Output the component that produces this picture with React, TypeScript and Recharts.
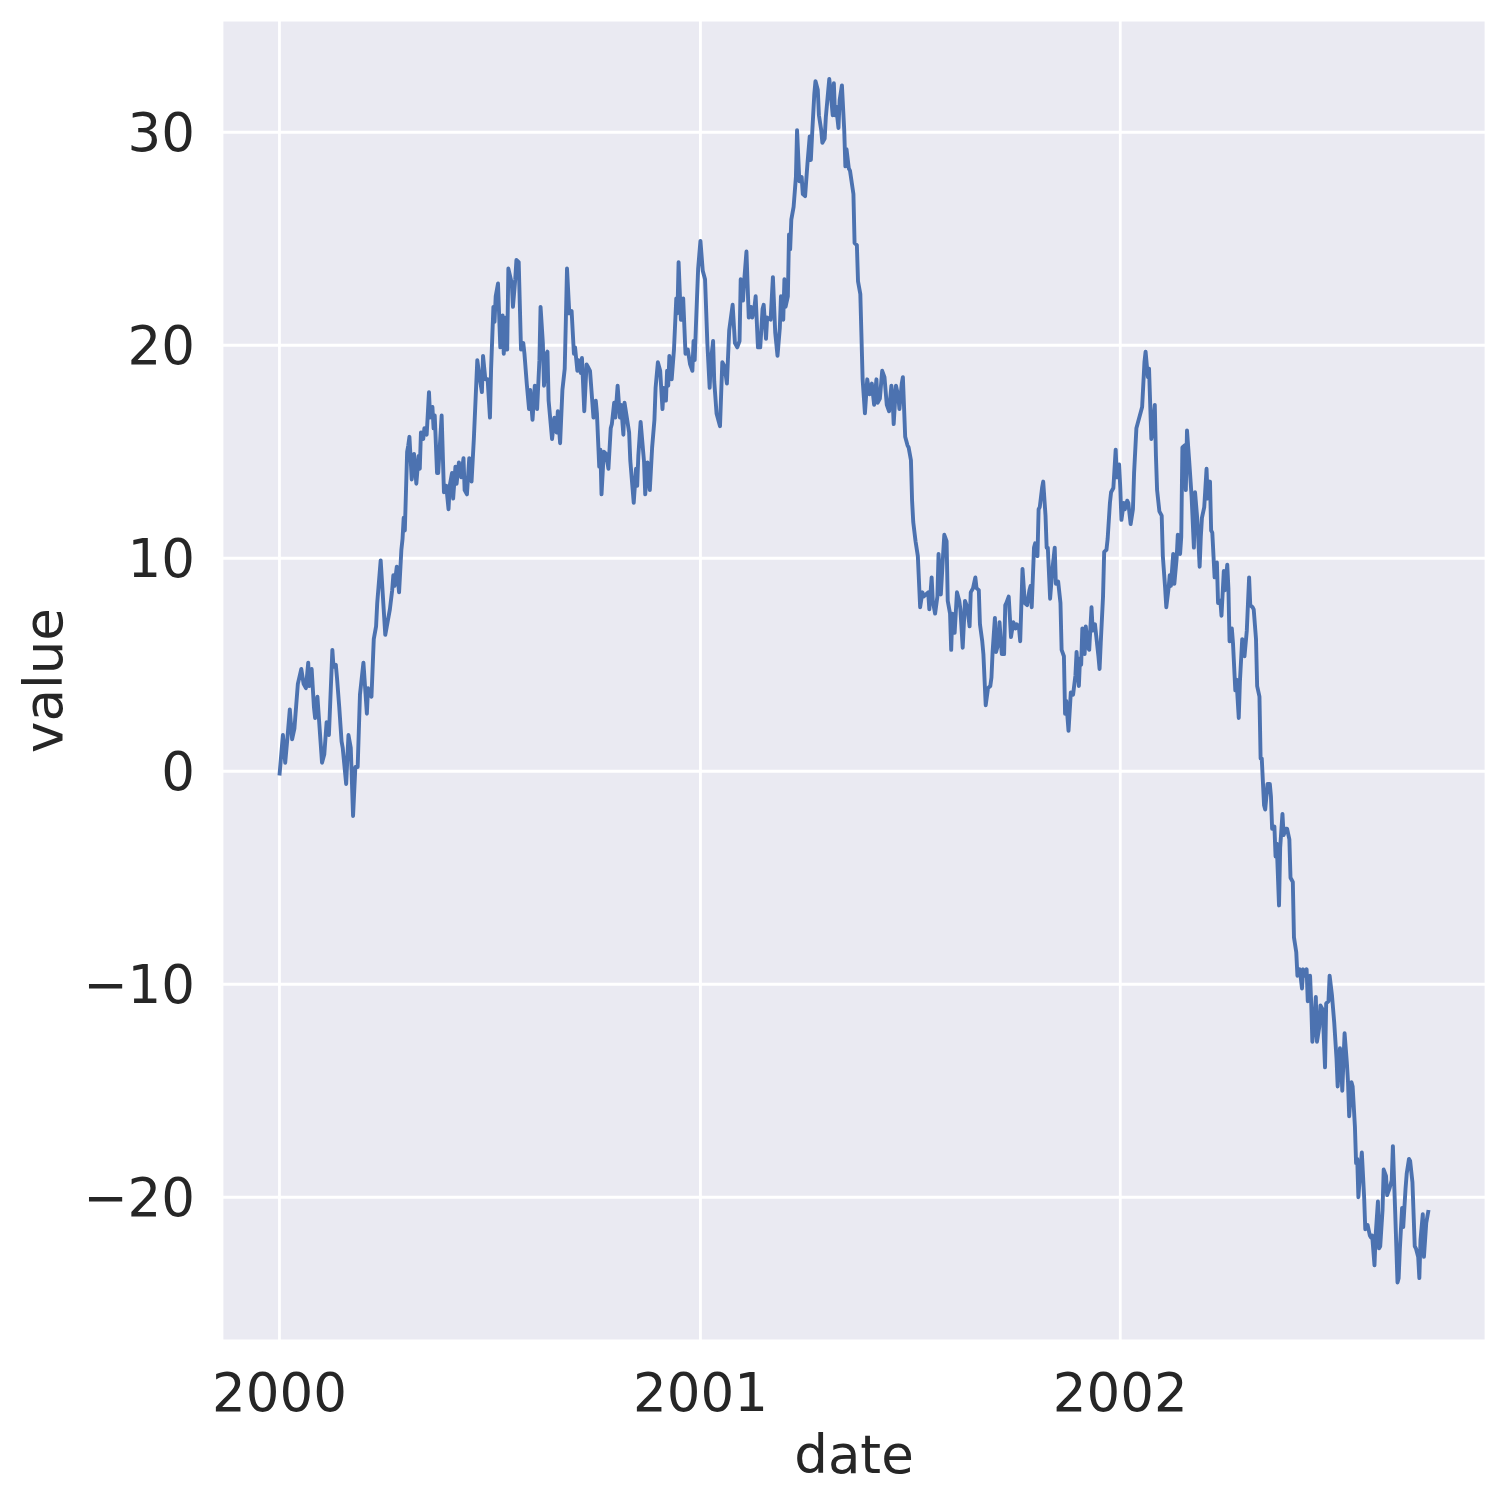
import React from "react"
import { LineChart, Line, XAxis, YAxis, CartesianGrid, Label } from "recharts"

// days since 2000-01-01 and the value of the walk on that day
const dayOffsets = [
    0, 3, 5, 7, 9, 11, 13, 16, 19, 21, 23, 25, 26, 28, 30, 31, 33, 37, 39, 41, 43, 46, 47, 49, 50, 52, 54, 55, 58, 60, 62, 64, 66, 68, 70, 73, 75, 76, 77, 80, 82, 84, 85, 88, 92, 94, 96, 98, 99, 100, 102, 104, 106, 107, 108, 109, 111, 112, 113, 115, 117, 119, 121, 122, 123, 125, 126, 128, 130, 131, 133, 134, 135, 137, 138, 141, 143, 145, 147, 148, 150, 151, 153, 154, 156, 158, 160, 161, 163, 165,
    167, 169, 172, 174, 176, 177, 179, 181, 183, 184, 186, 187, 188, 190, 192, 194, 195, 197, 198, 199, 202, 203, 205, 206, 208, 210, 212, 213, 215, 217, 218, 220, 222, 224, 226, 227, 229, 230, 232, 233, 234, 237, 239, 241, 242, 244, 246, 248, 249, 250, 252, 254, 256, 257, 259, 260, 262, 263, 265, 267, 268, 270, 273, 275, 276, 278, 279, 280, 282, 284, 286, 288, 289, 291, 292, 294, 296, 297, 299, 300, 302, 304, 305, 308, 310, 311, 312, 314, 317, 318, 320, 322, 324, 326, 327, 329,
    331, 333, 334, 336, 337, 338, 339, 341, 343, 345, 346, 347, 349, 351, 353, 355, 357, 359, 360, 361, 362, 364, 366, 368, 370, 372, 374, 375, 377, 378, 380, 383, 385, 387, 389, 391, 394, 396, 398, 400, 401, 403, 404, 406, 408, 410, 411, 413, 414, 416, 418, 420, 421, 423, 424, 427, 429, 431, 433, 435, 436, 438, 439, 440, 442, 443, 444, 445, 447, 449, 450, 452, 454, 455, 457, 459, 461, 462, 463, 465, 466, 468, 469, 471, 472, 474, 475, 477, 478, 479, 481, 482, 483, 484, 486, 487, 489, 491, 492, 493, 495, 496, 499, 500, 502, 503, 505, 507, 509, 511,
    513, 515, 517, 519, 520, 522, 524, 526, 528, 530, 532, 533, 534, 536, 538, 539, 541, 542, 544, 546, 547, 549, 550, 551, 553, 555, 557, 559, 560, 562, 564, 565, 567, 568, 570, 572, 573, 575, 577, 578, 580, 581, 583, 584, 585, 587, 589, 591, 592, 594, 596, 598, 600, 601, 603, 605, 606, 608, 609, 611, 612, 614, 616, 618, 619, 620, 622, 623, 625, 626, 628, 630, 631, 632, 634, 636, 638, 640, 641, 643, 644, 646, 648, 650, 652, 653, 654, 656, 657, 659, 660, 661, 663, 664, 666, 667, 668,
    670, 672, 674, 675, 677, 679, 680, 682, 683, 684, 686, 688, 690, 692, 693, 695, 696, 697, 698, 700, 701, 703, 704, 706, 707, 709, 710, 712, 713, 714, 716, 717, 719, 720, 722, 723, 725, 727, 728, 730, 731, 732, 734, 735, 737, 738, 740, 742, 743, 745, 746, 748, 749, 750, 752, 753, 755, 756, 758, 759, 761, 762, 763, 765, 767, 768, 770, 771, 773, 774, 775, 777, 778, 780, 781, 783, 784, 785, 787, 788, 789, 791, 793, 795, 796, 798, 800, 801, 802, 804, 806, 807, 809, 810, 811, 813, 815, 816,
    818, 819, 821, 822, 824, 825, 826, 828, 829, 831, 832, 834, 835, 837, 838, 839, 841, 843, 844, 846, 847, 849, 850, 852, 853, 854, 856, 857, 859, 861, 862, 863, 865, 866, 867, 869, 870, 872, 873, 875, 876, 878, 879, 881, 882, 884, 885, 887, 889, 890, 891, 893, 894, 896, 897, 898, 900, 901, 902, 904, 905, 907, 909, 910, 912, 913, 915, 917, 919, 920, 922, 923, 924, 926, 928, 929, 930, 932, 933, 935, 936, 937, 938, 940, 941, 943, 944, 946, 948, 949, 950, 952, 953, 955, 956, 957, 959, 960, 962, 963, 965, 967, 968, 970, 972, 973, 974, 976, 977, 979, 980, 982, 983, 985, 987, 988, 990, 991, 992, 994, 995, 997, 999,
]

const values = [
    -0.2, 1.7, 0.4, 1.6, 2.9, 1.5, 2.0, 4.1, 4.8, 4.1, 3.9, 5.1, 4.0, 4.8, 3.0, 2.5, 3.5, 0.4, 0.8, 2.3, 1.7, 5.7, 4.9, 5.0, 4.4, 3.0, 1.4, 1.1, -0.6, 1.7, 1.1, -2.1, 0.2, 0.2, 3.6, 5.1, 3.5, 2.7, 3.9, 3.5, 6.2, 6.8, 7.9, 9.9, 6.4, 7.0, 7.6, 8.5, 9.2, 8.7, 9.6, 8.4, 10.4, 10.9, 11.9, 11.3, 15.0, 15.3, 15.7, 13.7, 14.9, 13.5, 14.8, 14.2, 15.9, 15.6, 16.1, 15.8, 17.8, 16.6, 17.1, 16.1, 16.7, 14.0, 14.0, 16.7, 13.1, 13.4, 12.3, 13.4, 14.0, 12.8, 14.3, 13.5, 14.5, 13.8, 14.7, 13.2, 13.0, 14.7,
    13.6, 15.6, 19.3, 18.5, 17.8, 19.5, 18.4, 18.4, 16.6, 18.9, 21.8, 21.1, 22.3, 22.9, 19.9, 21.4, 19.6, 21.3, 19.8, 23.6, 22.9, 21.8, 23.1, 24.0, 23.9, 19.8, 20.1, 19.6, 18.2, 17.0, 17.9, 16.5, 18.1, 17.0, 19.3, 21.8, 20.1, 18.1, 19.6, 19.7, 17.4, 15.6, 16.6, 15.9, 16.9, 15.4, 17.9, 18.9, 21.2, 23.6, 21.5, 21.6, 19.6, 19.9, 18.8, 19.3, 18.7, 19.4, 16.9, 19.1, 19.0, 18.8, 16.6, 17.4, 16.8, 14.3, 15.1, 13.0, 15.0, 14.9, 14.2, 16.1, 16.3, 17.3, 16.6, 18.1, 16.6, 17.2, 15.8, 17.3, 16.6, 15.9, 14.6, 12.6, 14.2, 13.4, 14.8, 16.4, 14.5, 13.0, 14.5, 13.2, 15.2, 16.5, 18.0, 19.2,
    18.8, 17.0, 18.0, 17.4, 18.8, 18.1, 19.5, 18.4, 19.8, 22.2, 21.5, 23.9, 21.2, 22.2, 19.6, 19.8, 19.1, 18.8, 20.2, 19.3, 20.8, 23.6, 24.9, 23.5, 23.1, 20.1, 18.0, 19.2, 20.2, 18.3, 16.8, 16.2, 19.2, 19.0, 18.2, 20.7, 21.9, 20.1, 19.9, 20.2, 23.1, 22.1, 23.0, 24.4, 21.3, 21.8, 21.3, 21.8, 22.3, 19.9, 19.9, 21.7, 21.9, 20.3, 21.3, 21.2, 23.2, 20.6, 19.5, 20.8, 22.3, 21.2, 23.1, 21.8, 22.3, 25.2, 24.5, 25.9, 26.5, 27.9, 30.1, 27.7, 27.9, 27.1, 27.0, 28.5, 29.8, 28.7, 29.8, 31.8, 32.4, 32.0, 30.8, 30.1, 29.5, 29.7, 30.7, 31.9, 32.5, 32.0, 30.8, 32.3, 30.8, 31.2, 30.2, 31.5, 32.2, 30.1, 28.4, 29.2, 28.3, 28.2, 27.1, 24.8, 24.7, 23.0, 22.4, 18.4, 16.8, 18.4,
    17.7, 18.2, 17.2, 18.4, 17.3, 17.5, 18.8, 18.5, 17.2, 16.9, 18.1, 17.6, 16.3, 18.1, 17.6, 17.0, 18.2, 18.5, 15.7, 15.3, 15.2, 14.6, 12.7, 11.7, 10.8, 10.1, 7.7, 8.4, 8.2, 8.3, 8.4, 7.6, 9.1, 8.0, 7.4, 8.2, 10.2, 8.3, 10.2, 11.1, 10.8, 8.0, 7.4, 5.7, 7.4, 6.5, 8.4, 8.0, 7.6, 5.8, 8.0, 7.7, 6.8, 8.4, 8.6, 9.1, 8.6, 8.5, 6.9, 6.1, 5.5, 3.1, 3.9, 4.0, 4.4, 5.6, 7.2, 5.6, 6.0, 7.0, 5.5, 5.5, 7.8, 7.9, 8.2, 6.3, 7.0, 6.7, 6.9, 6.7, 6.1, 9.5, 7.9, 7.8, 8.5, 8.7, 7.7, 10.5, 10.7, 10.1, 12.3, 12.4, 13.3, 13.6, 12.0, 10.5, 10.5,
    8.1, 9.5, 10.5, 8.8, 8.9, 7.9, 5.7, 5.4, 2.7, 3.3, 1.9, 3.7, 3.6, 4.5, 5.6, 4.0, 5.3, 5.0, 6.7, 5.5, 6.8, 5.8, 5.7, 7.7, 6.6, 6.9, 6.4, 5.4, 4.8, 6.0, 8.2, 10.3, 10.4, 10.9, 12.6, 13.1, 13.3, 15.1, 13.8, 14.4, 13.3, 11.8, 12.6, 12.3, 12.7, 12.6, 11.6, 12.3, 14.0, 16.1, 16.3, 16.7, 16.9, 17.1, 19.2, 19.7, 18.5, 18.9, 15.6, 16.0, 17.2, 14.8, 13.2, 12.2, 12.0, 10.1, 8.6, 7.7, 8.6, 9.2, 8.7, 10.2, 8.8, 10.0, 11.1, 10.2, 11.0, 15.2, 15.3, 13.2, 16.0, 14.5, 12.9, 10.5, 13.1, 11.8, 9.6, 11.0, 11.9, 12.4, 14.2, 12.8, 13.6, 11.3, 11.2, 9.1, 9.8, 7.9,
    8.0, 7.3, 9.4, 8.5, 9.7, 8.6, 6.1, 6.7, 6.0, 3.8, 4.3, 2.5, 4.2, 6.2, 6.1, 5.4, 6.6, 9.1, 7.8, 7.7, 7.6, 6.2, 4.0, 3.5, 0.6, 0.6, -1.6, -1.8, -0.6, -0.6, -1.2, -2.7, -2.6, -4.0, -3.4, -6.3, -3.6, -2.0, -3.0, -2.7, -2.7, -3.2, -5.0, -5.2, -7.8, -8.5, -9.6, -9.3, -10.2, -9.3, -9.6, -9.3, -10.8, -9.6, -10.9, -12.7, -11.6, -10.6, -12.7, -12.0, -11.0, -11.2, -13.9, -10.9, -10.8, -9.6, -10.5, -11.8, -13.5, -14.8, -13.0, -13.7, -15.0, -12.3, -13.7, -14.6, -16.2, -14.6, -14.8, -16.7, -18.4, -18.2, -20.0, -18.5, -17.9, -20.0, -21.5, -21.3, -21.8, -21.9, -21.8, -23.2, -21.8, -20.2, -22.4, -22.3, -20.6, -18.7, -19.0, -19.9, -19.6, -19.2, -17.6, -20.7, -24.0, -23.8, -22.5, -20.5, -21.4, -19.6, -18.9, -18.2, -18.3, -19.3, -22.3, -22.4, -22.8, -23.8, -22.0, -20.8, -22.8, -21.2, -20.6,
]

const yearLabels = ["2000", "2001", "2002"]
const valueTicks = [-20, -10, 0, 10, 20, 30]

const DAY = 86400000
const START = Date.UTC(2000, 0, 1)

const data = dayOffsets.map((d, i) => ({ date: START + d * DAY, value: values[i] }))
const yearTicks = yearLabels.map((y) => Date.UTC(Number(y), 0, 1))

const FONT = "'DejaVu Sans', sans-serif"
const TEXT = "#262626"

export default function App() {
    return (
        <div style={{ width: 1505, height: 1505, background: "#fff" }}>
            <style>{`body { margin: 0; }`}</style>
            <LineChart
                width={1505}
                height={1505}
                data={data}
                margin={{ top: 20, right: 19, left: 0, bottom: 0 }}
                style={{ fontFamily: FONT }}
            >
                <CartesianGrid fill="#EAEAF2" stroke="#ffffff" strokeWidth={2.8} />
                <XAxis
                    dataKey="date"
                    type="number"
                    domain={[START - 49.95 * DAY, START + 1048.95 * DAY]}
                    ticks={yearTicks}
                    tickFormatter={(v) => String(new Date(v).getUTCFullYear())}
                    tick={{ fontSize: 53, fill: TEXT, fontFamily: FONT }}
                    tickLine={false}
                    axisLine={false}
                    tickSize={0}
                    tickMargin={32}
                    height={164}
                    allowDataOverflow
                >
                    <Label
                        value="date"
                        position="insideBottom"
                        offset={32}
                        style={{ fontSize: 53, fill: TEXT, fontFamily: FONT }}
                    />
                </XAxis>
                <YAxis
                    type="number"
                    domain={[-26.75, 35.27]}
                    ticks={valueTicks}
                    tickFormatter={(v) => (v < 0 ? `\u2212${Math.abs(v)}` : String(v))}
                    tick={{ fontSize: 53, fill: TEXT, fontFamily: FONT }}
                    tickLine={false}
                    axisLine={false}
                    tickSize={0}
                    tickMargin={27}
                    width={222}
                    allowDataOverflow
                >
                    <Label
                        content={(props: any) => {
                            const vb = props.viewBox || { x: 0, y: 20, height: 1321 }
                            const cx = vb.x + 62
                            const cy = vb.y + vb.height / 2
                            return (
                                <text
                                    x={cx}
                                    y={cy}
                                    transform={`rotate(-90 ${cx} ${cy})`}
                                    textAnchor="middle"
                                    fontSize={53}
                                    fill={TEXT}
                                    fontFamily={FONT}
                                >
                                    value
                                </text>
                            )
                        }}
                    />
                </YAxis>
                <Line
                    type="linear"
                    dataKey="value"
                    stroke="#4C72B0"
                    strokeWidth={3.9}
                    strokeLinejoin="round"
                    dot={false}
                    activeDot={false}
                    isAnimationActive={false}
                />
            </LineChart>
        </div>
    )
}
